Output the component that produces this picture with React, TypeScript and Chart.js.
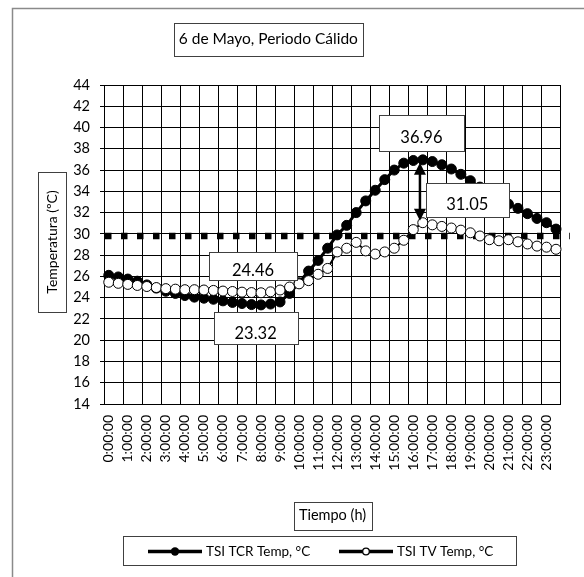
import React, { useEffect, useRef } from 'react';
import { Chart, registerables } from 'chart.js';

Chart.register(...registerables);

const timeSlots = [
  '0:00:00', '0:30:00', '1:00:00', '1:30:00', '2:00:00', '2:30:00', '3:00:00', '3:30:00',
  '4:00:00', '4:30:00', '5:00:00', '5:30:00', '6:00:00', '6:30:00', '7:00:00', '7:30:00',
  '8:00:00', '8:30:00', '9:00:00', '9:30:00', '10:00:00', '10:30:00', '11:00:00', '11:30:00',
  '12:00:00', '12:30:00', '13:00:00', '13:30:00', '14:00:00', '14:30:00', '15:00:00', '15:30:00',
  '16:00:00', '16:30:00', '17:00:00', '17:30:00', '18:00:00', '18:30:00', '19:00:00', '19:30:00',
  '20:00:00', '20:30:00', '21:00:00', '21:30:00', '22:00:00', '22:30:00', '23:00:00', '23:30:00',
];

const tcrTemp = [
  26.1, 25.95, 25.75, 25.55, 25.2, 24.9, 24.6, 24.4,
  24.2, 24.05, 23.95, 23.85, 23.7, 23.55, 23.45, 23.35,
  23.32, 23.4, 23.6, 24.4, 25.4, 26.5, 27.5, 28.65,
  29.9, 30.8, 32.0, 33.1, 34.1, 35.1, 36.0, 36.65,
  36.9, 36.96, 36.8, 36.5, 36.1, 35.6, 35.0, 34.4,
  33.8, 33.2, 32.8, 32.4, 31.9, 31.45, 31.05, 30.45,
];

const tvTemp = [
  25.45, 25.35, 25.25, 25.15, 25.05, 24.95, 24.85, 24.8,
  24.75, 24.75, 24.72, 24.68, 24.62, 24.58, 24.52, 24.48,
  24.46, 24.55, 24.72, 25.0, 25.3, 25.6, 26.2, 26.75,
  28.3, 28.65, 29.2, 28.4, 28.1, 28.3, 28.65, 29.4,
  30.4, 31.05, 30.85, 30.7, 30.55, 30.35, 30.1, 29.8,
  29.45, 29.35, 29.45, 29.25, 29.05, 28.85, 28.75, 28.55,
];

const thresholdTemp = 29.8;
const yMin = 14;
const yMax = 44;
const yStep = 2;

const seriesNames = ['TSI TCR Temp, °C', 'TSI TV Temp, °C'];
const titleText = '6 de Mayo, Periodo Cálido';
const yTitle = 'Temperatura (ºC)';
const xTitle = 'Tiempo (h)';

// value callouts: series 0 = TCR, 1 = TV
const calloutText = ['36.96', '31.05', '24.46', '23.32'];
const calloutSeries = [0, 1, 1, 0];
const calloutIndex = [33, 33, 16, 16];

const FONT = 'Lato, "Open Sans", sans-serif';

function drawBox(ctx: CanvasRenderingContext2D, text: string, cx: number, cy: number, w: number, h: number, fontSize: number, textDy = 0, rotate = false) {
  ctx.save();
  const x0 = Math.round(cx - w / 2) + 0.5;
  const y0 = Math.round(cy - h / 2) + 0.5;
  ctx.fillStyle = '#fff';
  ctx.fillRect(x0, y0, Math.round(w), Math.round(h));
  ctx.strokeStyle = '#404040';
  ctx.lineWidth = 1;
  ctx.strokeRect(x0, y0, Math.round(w), Math.round(h));
  ctx.fillStyle = '#000';
  ctx.font = `${fontSize}px ${FONT}`;
  ctx.textAlign = 'center';
  ctx.textBaseline = 'middle';
  if (rotate) {
    ctx.translate(cx + textDy, cy);
    ctx.rotate(-Math.PI / 2);
    ctx.fillText(text, 0, 0);
  } else {
    ctx.fillText(text, cx, cy + textDy);
  }
  ctx.restore();
}

const overlayPlugin = {
  id: 'overlay',
  beforeDatasetsDraw(chart: any) {
    const { ctx, chartArea, scales } = chart;
    const y = scales.y.getPixelForValue(thresholdTemp);
    ctx.save();
    ctx.strokeStyle = '#000';
    ctx.lineWidth = 6.5;
    ctx.setLineDash([6.5, 9.5]);
    ctx.beginPath();
    ctx.moveTo(chartArea.left + 1, y);
    ctx.lineTo(chartArea.right + 9, y);
    ctx.stroke();
    ctx.restore();
  },
  afterDraw(chart: any) {
    const { ctx, scales } = chart;
    const xs = scales.x;
    const ys = scales.y;

    // outer frame
    ctx.save();
    ctx.strokeStyle = '#8a8a8a';
    ctx.lineWidth = 1.5;
    ctx.beginPath();
    ctx.moveTo(12.5, 577);
    ctx.lineTo(12.5, 8.5);
    ctx.lineTo(584, 8.5);
    ctx.stroke();
    ctx.restore();

    // title
    drawBox(ctx, titleText, 268.3, 39.2, 189, 33, 15.5, 0);
    // axis titles
    drawBox(ctx, yTitle, 52, 242, 28, 140, 14, 0, true);
    drawBox(ctx, xTitle, 332.5, 515.5, 78, 28, 14.5, 0);

    // legend
    ctx.save();
    ctx.fillStyle = '#fff';
    ctx.fillRect(123.5, 536.5, 393, 29);
    ctx.strokeStyle = '#404040';
    ctx.lineWidth = 1;
    ctx.strokeRect(123.5, 536.5, 393, 29);
    const ly = 551.5;
    ctx.strokeStyle = '#000';
    ctx.lineWidth = 3.5;
    ctx.beginPath();
    ctx.moveTo(148, ly); ctx.lineTo(202, ly);
    ctx.moveTo(339, ly); ctx.lineTo(393, ly);
    ctx.stroke();
    ctx.fillStyle = '#000';
    ctx.beginPath(); ctx.arc(175, ly, 4.2, 0, Math.PI * 2); ctx.fill();
    ctx.fillStyle = '#fff';
    ctx.lineWidth = 1.3;
    ctx.beginPath(); ctx.arc(366, ly, 3.3, 0, Math.PI * 2); ctx.fill(); ctx.stroke();
    ctx.fillStyle = '#000';
    ctx.font = `13.5px ${FONT}`;
    ctx.textAlign = 'left';
    ctx.textBaseline = 'middle';
    ctx.fillText(seriesNames[0], 206, ly);
    ctx.fillText(seriesNames[1], 397, ly);
    ctx.restore();

    // arrow between maxima
    const ax = xs.getPixelForValue(32.7);
    const yTop = ys.getPixelForValue(Math.max(...tcrTemp)) + 3;
    const yBot = ys.getPixelForValue(Math.max(...tvTemp)) - 2;
    ctx.save();
    ctx.strokeStyle = '#000';
    ctx.fillStyle = '#000';
    ctx.lineWidth = 2.5;
    ctx.beginPath();
    ctx.moveTo(ax, yTop + 10);
    ctx.lineTo(ax, yBot - 10);
    ctx.stroke();
    ctx.beginPath();
    ctx.moveTo(ax, yTop); ctx.lineTo(ax - 6, yTop + 12); ctx.lineTo(ax + 6, yTop + 12); ctx.closePath(); ctx.fill();
    ctx.beginPath();
    ctx.moveTo(ax, yBot); ctx.lineTo(ax - 6, yBot - 12); ctx.lineTo(ax + 6, yBot - 12); ctx.closePath(); ctx.fill();
    ctx.restore();

    // callouts
    const offsets = [
      { dx: -1.4, dy: -27, w: 85, h: 36, t: 5 },
      { dx: 44.5, dy: -23, w: 83, h: 34, t: 5 },
      { dx: -8, dy: -27, w: 88, h: 28, t: 5 },
      { dx: -5.4, dy: 23.6, w: 84, h: 32, t: 5 },
    ];
    calloutText.forEach((txt, k) => {
      const src = calloutSeries[k] === 0 ? tcrTemp : tvTemp;
      const idx = calloutIndex[k];
      const px = xs.getPixelForValue(idx);
      const py = ys.getPixelForValue(src[idx]);
      const o = offsets[k];
      drawBox(ctx, txt, px + o.dx, py + o.dy, o.w, o.h, 16.5, o.t);
    });
  },
};

export default function App() {
  const canvasRef = useRef<HTMLCanvasElement | null>(null);

  useEffect(() => {
    const canvas = canvasRef.current;
    if (!canvas) return;
    const chart = new Chart(canvas, {
      type: 'line',
      data: {
        labels: timeSlots,
        datasets: [
          {
            label: seriesNames[0],
            data: tcrTemp,
            borderColor: '#000',
            borderWidth: 3,
            pointRadius: 5,
            pointBackgroundColor: '#000',
            pointBorderColor: '#000',
            pointBorderWidth: 1,
            order: 2,
            tension: 0,
          },
          {
            label: seriesNames[1],
            data: tvTemp,
            borderColor: '#000',
            borderWidth: 2,
            pointRadius: 5,
            pointBackgroundColor: '#fff',
            pointBorderColor: '#000',
            pointBorderWidth: 1,
            order: 1,
            tension: 0,
          },
        ],
      },
      options: {
        responsive: false,
        maintainAspectRatio: false,
        devicePixelRatio: 1,
        animation: false,
        events: [],
        layout: { padding: { left: 0, top: 85, right: 17, bottom: 0 } },
        plugins: {
          legend: { display: false },
          title: { display: false },
          tooltip: { enabled: false },
        },
        scales: {
          x: {
            type: 'category',
            offset: true,
            grid: {
              offset: true,
              drawTicks: false,
              lineWidth: 1,
              color: (c: any) => (c.index === undefined || c.index % 2 === 0 ? '#000' : 'rgba(0,0,0,0)'),
            },
            border: { color: '#000', width: 1 },
            ticks: {
              autoSkip: false,
              maxRotation: 90,
              minRotation: 90,
              padding: 11,
              color: '#000',
              font: { family: FONT, size: 14 },
              callback: (_v: any, i: number) => (i % 2 === 0 ? timeSlots[i] : ''),
            },
            afterFit: (s: any) => { s.height = 173; },
          },
          y: {
            min: yMin,
            max: yMax,
            ticks: {
              stepSize: yStep,
              padding: 10,
              color: '#000',
              font: { family: FONT, size: 14.5 },
            },
            grid: { color: '#000', lineWidth: 1, tickLength: 4, drawTicks: true },
            border: { color: '#000', width: 1 },
            afterFit: (s: any) => { s.width = 104; },
          },
        },
      },
      plugins: [overlayPlugin],
    });
    return () => chart.destroy();
  }, []);

  return (
    <canvas
      ref={canvasRef}
      width={584}
      height={577}
      style={{ position: 'absolute', left: 0, top: 0, width: 584, height: 577, background: '#fff' }}
    />
  );
}
